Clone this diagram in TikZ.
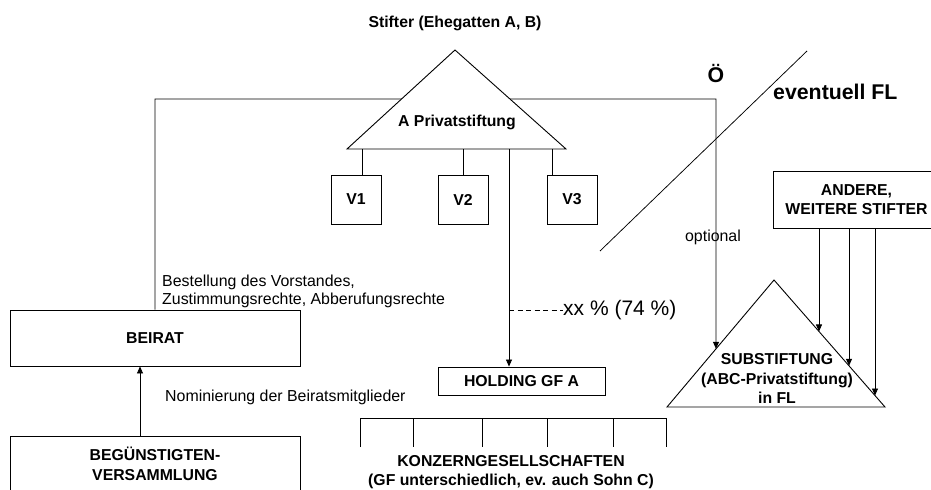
\documentclass[tikz,border=0pt]{standalone}
\usepackage{fontspec}
\setmainfont{Liberation Sans}
\usetikzlibrary{arrows.meta,calc}
\begin{document}
\begin{tikzpicture}[x=1bp,y=-1bp,
  every node/.style={font=\fontsize{15.9bp}{18bp}\selectfont},
  box/.style={draw, line width=0.9bp, fill=white, inner sep=0pt, align=center,
    font=\fontsize{15.8bp}{19.5bp}\selectfont\bfseries},
  thin/.style={line width=0.75bp},
  arr/.style={thin, -{Triangle[length=7bp,width=6bp]}},
  tri/.style={draw, line width=0.9bp, fill=white, line join=miter},
  lbl/.style={inner sep=0pt, align=left},
  bold/.style={inner sep=0pt, align=center, font=\fontsize{15.8bp}{19.5bp}\selectfont\bfseries},
  big/.style={inner sep=0pt, font=\fontsize{21.3bp}{24bp}\selectfont\bfseries}]
\useasboundingbox (0,0) rectangle (931,490);
\clip (0,0) rectangle (931,490);

% coordinates of the triangles
\coordinate (pa) at (455,50);
\coordinate (pbl) at (347,149);
\coordinate (pbr) at (566,149);
\coordinate (sa) at (774,280);
\coordinate (sbl) at (667,407);
\coordinate (sbr) at (885,407);

% boxes
\node[box, minimum width=290bp, minimum height=56bp] (beirat) at (155,338) {BEIRAT};
\node[box, minimum width=290bp, minimum height=56bp] (beg) at (155,464) {BEGÜNSTIGTEN-\\VERSAMMLUNG};
\node[box, minimum width=167bp, minimum height=28bp] (holding) at (521.5,381) {HOLDING GF A};
\node[box, minimum width=167bp, minimum height=57bp] (andere) at (856.5,199.5) {ANDERE,\\WEITERE STIFTER};
\node[box, minimum width=50bp, minimum height=49bp] (v1) at (356,199.5) {V1};
\node[box, minimum width=50bp, minimum height=49bp] (v2) at (463,199.5) {V2};
\node[box, minimum width=50bp, minimum height=49bp] (v3) at (572,199.5) {V3};

% line from Beirat round to the Substiftung
\coordinate (topR) at (716,99);
\coordinate (e0) at ($(sa)!0.542!(sbl)$);
\draw[arr] (beirat.north) |- (topR) -- (e0);

% main foundation triangle
\draw[tri] (pa) -- (pbl) -- (pbr) -- cycle;
\node[bold] (pst) at (457,122) {A Privatstiftung};
\node[bold] (stifter) at (455,23) {Stifter (Ehegatten A, B)};

% board members
\draw[thin] ([xshift=6bp]v1.north) -- ([xshift=6bp]v1.north |- pbl);
\draw[thin] (v2.north) -- (v2.north |- pbl);
\draw[thin] ([xshift=-20bp]v3.north) -- ([xshift=-20bp]v3.north |- pbl);

% holding
\coordinate (hsrc) at (509,149);
\draw[arr] (hsrc) -- (holding.north -| hsrc);
\node[anchor=west, inner sep=0pt, font=\fontsize{21bp}{24bp}\selectfont] (xx) at (563,310) {xx \% (74 \%)};
\coordinate (hx) at (hsrc |- xx.west);
\draw[thin, dash pattern=on 5bp off 3.5bp] (hx) -- (xx.west);

% Konzerngesellschaften
\node[bold] (konz) at (511,472) {KONZERNGESELLSCHAFTEN\\(GF unterschiedlich, ev. auch Sohn C)};
\draw[thin] (360,447) -- (360,418) -- (666,418) -- (666,447);
\foreach \x in {413,482,547,613} \draw[thin] (\x,418) -- (\x,447);

% Beirat labels and arrow
\node[lbl, anchor=west] (best) at (162,291) {Bestellung des Vorstandes,\\Zustimmungsrechte, Abberufungsrechte};
\draw[arr] ([xshift=-15bp]beg.north) -- ([xshift=-15bp]beirat.south);
\node[lbl, anchor=west] (nom) at (165,397) {Nominierung der Beiratsmitglieder};

% border line
\coordinate (d1) at (807,51);
\coordinate (d2) at (600,251);
\draw[thin] (d1) -- (d2);
\node[big] (oe) at (716,74) {Ö};
\node[big, anchor=west] (fl) at (773,92) {eventuell FL};
\node[inner sep=0pt] (opt) at (713,237) {optional};

% Substiftung
\draw[tri] (sa) -- (sbl) -- (sbr) -- cycle;
\node[bold] (sub) at (777,378.5) {SUBSTIFTUNG\\(ABC-Privatstiftung)\\in FL};
\coordinate (e1) at ($(sa)!0.4054!(sbr)$);
\coordinate (e2) at ($(sa)!0.6757!(sbr)$);
\coordinate (e3) at ($(sa)!0.9099!(sbr)$);
\draw[arr] (andere.south -| e1) -- (e1);
\draw[arr] (andere.south -| e2) -- (e2);
\draw[arr] (andere.south -| e3) -- (e3);
\end{tikzpicture}
\end{document}
